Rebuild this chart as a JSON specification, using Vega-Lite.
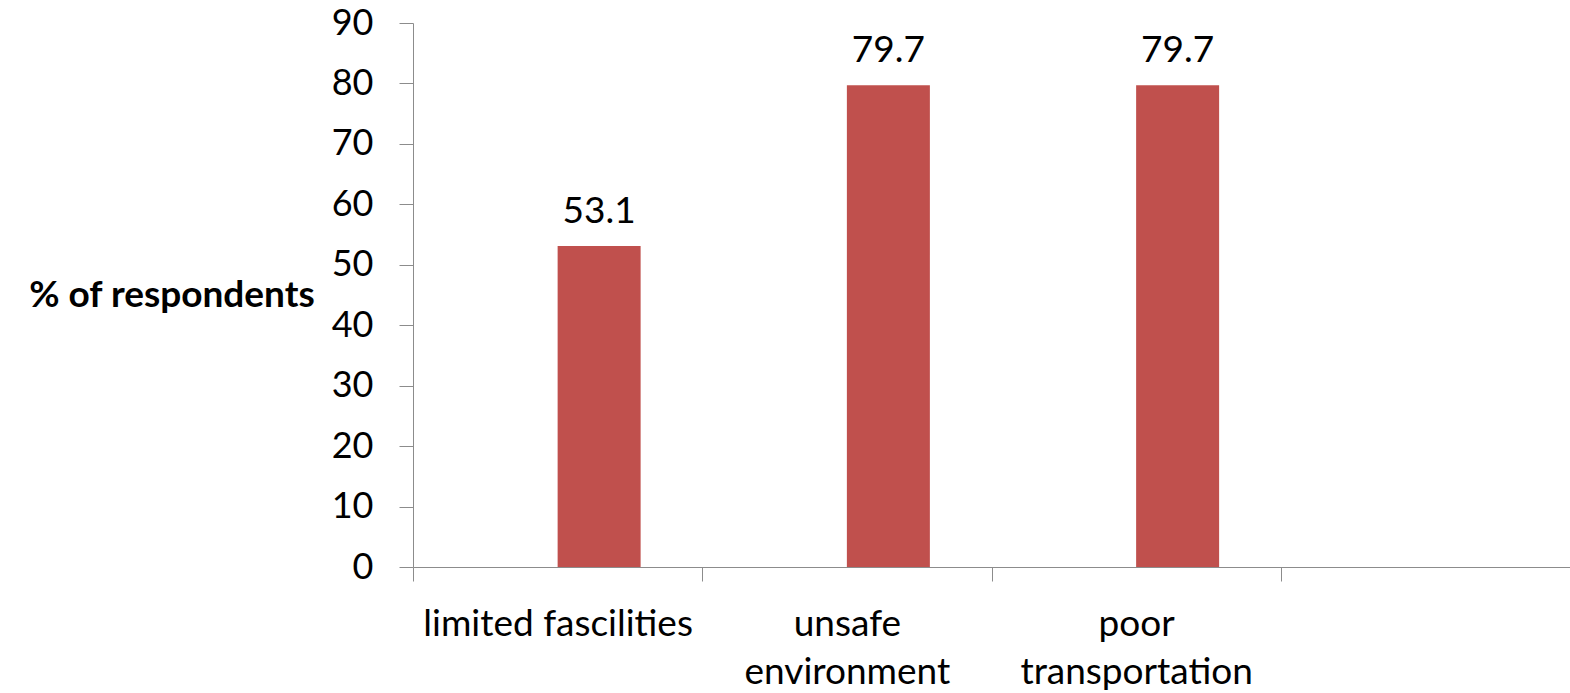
{
  "$schema": "https://vega.github.io/schema/vega-lite/v6.json",
  "autosize": "none",
  "width": 1157,
  "height": 544,
  "padding": {"left": 413, "top": 23, "right": 0, "bottom": 126},
  "background": "white",
  "config": {
    "view": {"stroke": null},
    "font": "Lato",
    "axis": {"grid": false, "domainColor": "#8c8c8c", "tickColor": "#8c8c8c", "labelColor": "#000000", "titleColor": "#000000", "labelFont": "Lato", "titleFont": "Lato"}
  },
  "data": {
    "values": [
      {"reason": "limited fascilities", "series": "respondents", "percent": 53.1},
      {"reason": "unsafe environment", "series": "respondents", "percent": 79.7},
      {"reason": "poor transportation", "series": "respondents", "percent": 79.7}
    ]
  },
  "encoding": {
    "x": {
      "field": "reason",
      "type": "nominal",
      "sort": null,
      "scale": {"domain": ["limited fascilities", "unsafe environment", "poor transportation", ""], "paddingInner": 0, "paddingOuter": 0},
      "axis": {
        "title": null,
        "labelAngle": 0,
        "labelFontSize": 37,
        "labelLimit": 0,
        "labelPadding": 25,
        "labelLineHeight": 48,
        "tickSize": 14,
        "tickBand": "extent",
        "labelExpr": "datum.value == 'unsafe environment' ? ['unsafe', 'environment'] : datum.value == 'poor transportation' ? ['poor', 'transportation'] : datum.value"
      }
    },
    "xOffset": {
      "field": "series",
      "type": "nominal",
      "scale": {"domain": ["", "respondents"], "paddingInner": 0, "paddingOuter": 0.7425}
    },
    "y": {
      "field": "percent",
      "type": "quantitative",
      "scale": {"domain": [0, 90]},
      "axis": {
        "title": "% of respondents",
        "titleAngle": 0,
        "titleAlign": "right",
        "titleBaseline": "middle",
        "titleFontSize": 37,
        "titleFontWeight": "bold",
        "titlePadding": 17,
        "titleLimit": 0,
        "values": [0, 10, 20, 30, 40, 50, 60, 70, 80, 90],
        "labelFontSize": 36,
        "labelPadding": 26,
        "tickSize": 14
      }
    }
  },
  "layer": [
    {"mark": {"type": "bar", "color": "#C0504D"}},
    {
      "mark": {"type": "text", "fontSize": 37, "baseline": "alphabetic", "dy": -23, "color": "#000000"},
      "encoding": {"text": {"field": "percent", "type": "quantitative", "format": ".1f"}}
    }
  ]
}
